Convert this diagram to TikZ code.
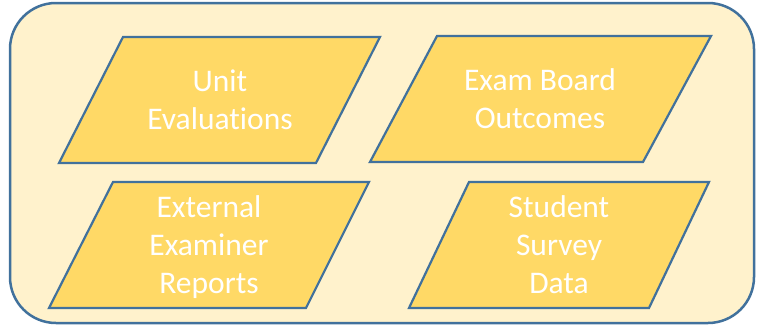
\documentclass[tikz,border=0pt]{standalone}
\usepackage{fontspec}
\setmainfont{Carlito}[Ligatures=NoCommon]
\definecolor{panel}{HTML}{FFF2CC}
\definecolor{frame}{HTML}{41719C}
\definecolor{datafill}{HTML}{FFD966}
\tikzset{
	datablock/.style={fill=datafill, draw=frame, line width=2.2pt, line join=miter},
	datatext/.style={text=white, align=center, anchor=base, inner sep=0pt,
		font=\fontsize{31.5}{38}\selectfont}
}

\begin{document}
\begin{tikzpicture}[x=1pt, y=-1pt]
	\useasboundingbox (0,0) rectangle (757,324);
	
	% background panel
	\filldraw[fill=panel, draw=frame, line width=2.5pt, rounded corners=46pt] (10,3) rectangle (754,323);
	
	% top left
	\filldraw[datablock] (123,37) -- (380,37) -- (316,163) -- (59,163) -- cycle;
	\node[datatext] (unitev) at (220,129) {Unit\\Evaluations};
	
	% top right
	\filldraw[datablock] (437,36) -- (711,36) -- (643,162) -- (370,162) -- cycle;
	\node[datatext] (examboard) at (540,128) {Exam Board\\Outcomes};
	
	% bottom left
	\filldraw[datablock] (113,182) -- (369,182) -- (306,308) -- (49,308) -- cycle;
	\node[datatext] (extexam) at (209,293) {External\\Examiner\\Reports};
	
	% bottom right
	\filldraw[datablock] (469,182) -- (709,182) -- (649,308) -- (409,308) -- cycle;
	\node[datatext] (survey) at (559,293) {Student\\Survey\\Data};
	
\end{tikzpicture}
\end{document}
